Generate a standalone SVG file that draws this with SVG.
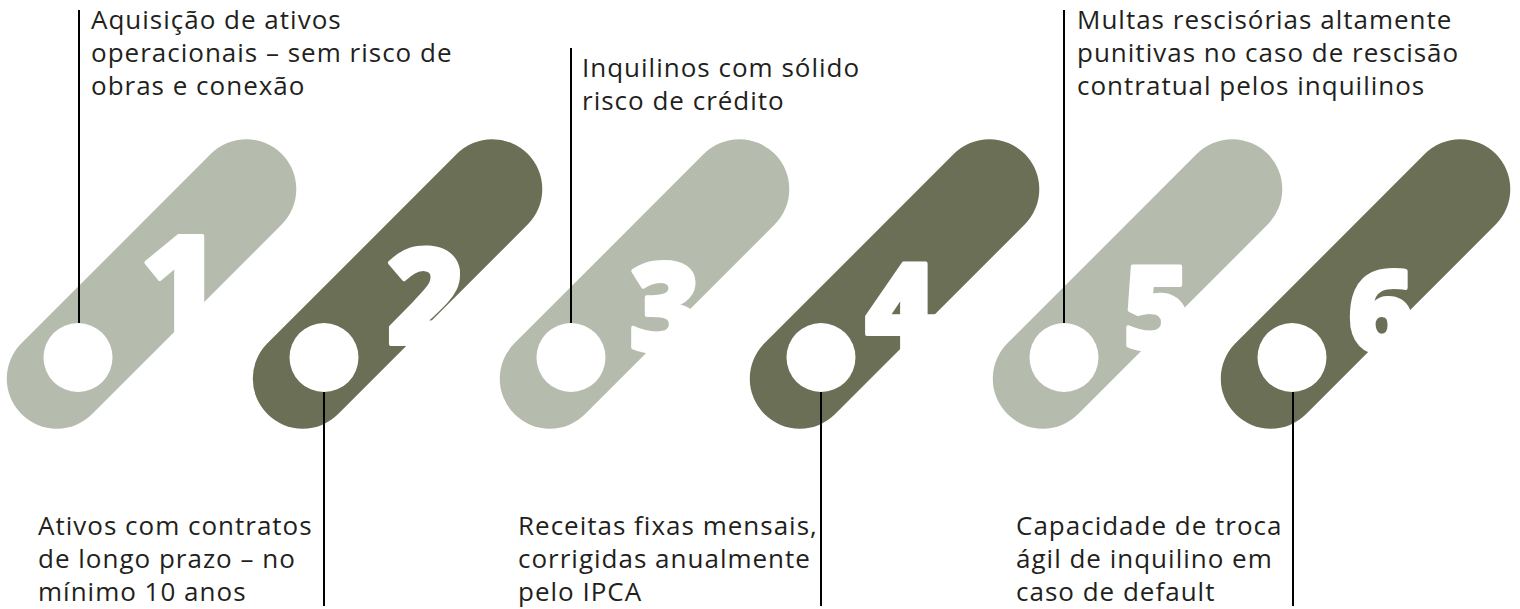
<svg xmlns="http://www.w3.org/2000/svg" width="1520" height="609" viewBox="0 0 1520 609">
<style>
.light{fill:#B5BCAD}
.dark{fill:#6A6F55}
.hole{fill:#FFFFFF}
.num{fill:#FFFFFF;stroke:#FFFFFF;stroke-width:4;stroke-linejoin:round;font-family:"Open Sans","DejaVu Sans",sans-serif;font-weight:800}
.lbl{fill:#231F20;font-family:"Open Sans","Liberation Sans",sans-serif;font-size:26px;letter-spacing:1px}
.conn{stroke:#000000;stroke-width:2;fill:none}
</style>
<rect width="1520" height="609" fill="#FFFFFF"/>
<g id="pill1">
<rect class="light" x="-80" y="-50" width="368" height="100" rx="50" transform="translate(78 357.5) rotate(-45)"/>
<text class="num" x="141" y="331" font-size="133">1</text>
</g>
<g id="pill2">
<rect class="dark" x="-80" y="-50" width="368" height="100" rx="50" transform="translate(324 357.5) rotate(-45)"/>
<text class="num" x="387" y="344" font-size="133">2</text>
</g>
<g id="pill3">
<rect class="light" x="-80" y="-50" width="368" height="100" rx="50" transform="translate(571 357.5) rotate(-45)"/>
<text class="num" x="629" y="351" font-size="123">3</text>
</g>
<g id="pill4">
<rect class="dark" x="-80" y="-50" width="368" height="100" rx="50" transform="translate(821 357.5) rotate(-45)"/>
<text class="num" x="865" y="351" font-size="123">4</text>
</g>
<g id="pill5">
<rect class="light" x="-80" y="-50" width="368" height="100" rx="50" transform="translate(1064 357.5) rotate(-45)"/>
<text class="num" x="1123" y="349" font-size="116">5</text>
</g>
<g id="pill6">
<rect class="dark" x="-80" y="-50" width="368" height="100" rx="50" transform="translate(1292 357.5) rotate(-45)"/>
<text class="num" x="1348" y="352" font-size="113">6</text>
</g>
<g id="connectors">
<line class="conn" x1="79" y1="10" x2="79" y2="323"/>
<line class="conn" x1="324" y1="392" x2="324" y2="606"/>
<line class="conn" x1="571" y1="48" x2="571" y2="323"/>
<line class="conn" x1="821" y1="392" x2="821" y2="606"/>
<line class="conn" x1="1064" y1="10" x2="1064" y2="323"/>
<line class="conn" x1="1293" y1="392" x2="1293" y2="606"/>
</g>
<g id="holes">
<circle class="hole" cx="78" cy="357.5" r="34.5"/>
<circle class="hole" cx="324" cy="357.5" r="34.5"/>
<circle class="hole" cx="571" cy="357.5" r="34.5"/>
<circle class="hole" cx="821" cy="357.5" r="34.5"/>
<circle class="hole" cx="1064" cy="357.5" r="34.5"/>
<circle class="hole" cx="1292" cy="357.5" r="34.5"/>
</g>
<g id="label1">
<text class="lbl"><tspan x="91" y="29">Aquisição de ativos</tspan><tspan x="91" y="62">operacionais – sem risco de</tspan><tspan x="91" y="95">obras e conexão</tspan></text>
</g>
<g id="label2">
<text class="lbl"><tspan x="38" y="535">Ativos com contratos</tspan><tspan x="38" y="568">de longo prazo – no</tspan><tspan x="38" y="601">mínimo 10 anos</tspan></text>
</g>
<g id="label3">
<text class="lbl"><tspan x="582" y="77">Inquilinos com sólido</tspan><tspan x="582" y="110">risco de crédito</tspan></text>
</g>
<g id="label4">
<text class="lbl"><tspan x="518" y="535">Receitas fixas mensais,</tspan><tspan x="518" y="568">corrigidas anualmente</tspan><tspan x="518" y="601">pelo IPCA</tspan></text>
</g>
<g id="label5">
<text class="lbl"><tspan x="1077" y="29">Multas rescisórias altamente</tspan><tspan x="1077" y="62">punitivas no caso de rescisão</tspan><tspan x="1077" y="95">contratual pelos inquilinos</tspan></text>
</g>
<g id="label6">
<text class="lbl"><tspan x="1016" y="535">Capacidade de troca</tspan><tspan x="1016" y="568">ágil de inquilino em</tspan><tspan x="1016" y="601">caso de default</tspan></text>
</g>
</svg>
